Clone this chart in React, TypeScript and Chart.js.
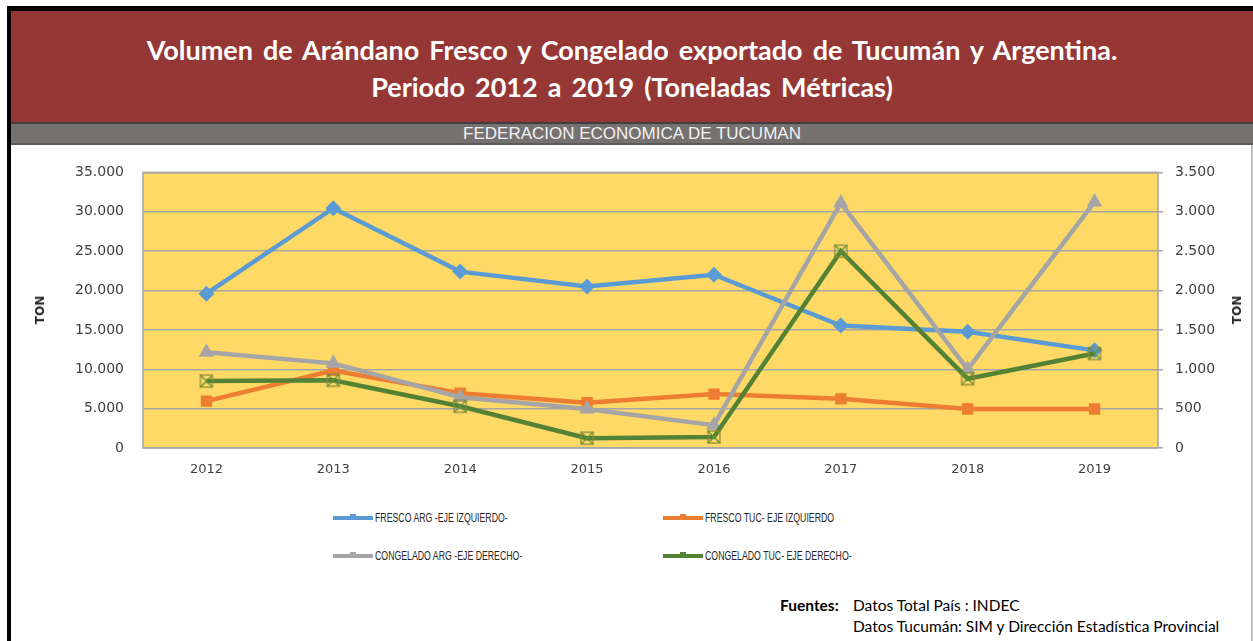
import React, { useEffect, useRef } from "react";
import { Chart, registerables } from "chart.js";

Chart.register(...registerables);

const years = ["2012", "2013", "2014", "2015", "2016", "2017", "2018", "2019"];
const frescoArg = [19600, 30450, 22400, 20500, 22000, 15550, 14750, 12400];
const frescoTuc = [5950, 9850, 6950, 5750, 6850, 6250, 4950, 4950];
const congeladoArg = [1215, 1075, 645, 495, 290, 3110, 1000, 3125];
const congeladoTuc = [850, 860, 530, 125, 140, 2500, 880, 1200];
const leftTicks = [0, 5000, 10000, 15000, 20000, 25000, 30000, 35000];
const rightTicks = [0, 500, 1000, 1500, 2000, 2500, 3000, 3500];
const seriesNames = [
  "FRESCO ARG -EJE IZQUIERDO-",
  "FRESCO TUC- EJE IZQUIERDO",
  "CONGELADO ARG -EJE DERECHO-",
  "CONGELADO TUC- EJE DERECHO-",
];
const colors = ["#5B9BD5", "#ED7D31", "#A5A5A5", "#548235"];

const fmt = (v: number) => {
  const s = String(Math.round(v));
  return s.replace(/\B(?=(\d{3})+(?!\d))/g, ".");
};

const bgPlugin = {
  id: "plotBg",
  beforeDraw(chart: any) {
    const { ctx, chartArea } = chart;
    ctx.save();
    ctx.fillStyle = "#FFD966";
    ctx.fillRect(chartArea.left, chartArea.top, chartArea.right - chartArea.left, chartArea.bottom - chartArea.top);
    ctx.restore();
  },
  afterDatasetsDraw(chart: any) {
    const { ctx, chartArea } = chart;
    ctx.save();
    ctx.strokeStyle = "#A6A6A6";
    ctx.lineWidth = 1.5;
    ctx.strokeRect(chartArea.left, chartArea.top, chartArea.right - chartArea.left, chartArea.bottom - chartArea.top);
    ctx.restore();
  },
};

export default function App() {
  const ref = useRef<HTMLCanvasElement | null>(null);
  useEffect(() => {
    if (!ref.current) return;
    const mk = document.createElement("canvas");
    mk.width = 16;
    mk.height = 16;
    const mc = mk.getContext("2d")!;
    mc.strokeStyle = "#8C8A3C";
    mc.lineWidth = 1.3;
    mc.strokeRect(2, 2, 12, 12);
    mc.strokeStyle = "#5E8F33";
    mc.lineWidth = 1.3;
    mc.beginPath();
    mc.moveTo(2, 2);
    mc.lineTo(14, 14);
    mc.moveTo(14, 2);
    mc.lineTo(2, 14);
    mc.stroke();

    const yFont = { family: "DejaVu Sans", size: 14 };
    const xFont = { family: "DejaVu Sans", size: 13 };
    const chart = new Chart(ref.current, {
      type: "line",
      data: {
        labels: years,
        datasets: [
          {
            label: seriesNames[0],
            data: frescoArg,
            yAxisID: "y",
            borderColor: colors[0],
            backgroundColor: colors[0],
            borderWidth: 4.5,
            pointStyle: "rectRot",
            pointRadius: 8,
            pointBorderWidth: 0,
            order: 3,
          },
          {
            label: seriesNames[1],
            data: frescoTuc,
            yAxisID: "y",
            borderColor: colors[1],
            backgroundColor: colors[1],
            borderWidth: 4.5,
            pointStyle: "rect",
            pointRadius: 8,
            pointBorderWidth: 0,
            order: 2,
          },
          {
            label: seriesNames[2],
            data: congeladoArg,
            yAxisID: "y1",
            borderColor: colors[2],
            backgroundColor: colors[2],
            borderWidth: 4.5,
            pointStyle: "triangle",
            pointRadius: 9,
            pointBorderWidth: 0,
            order: 1,
          },
          {
            label: seriesNames[3],
            data: congeladoTuc,
            yAxisID: "y1",
            borderColor: colors[3],
            backgroundColor: colors[3],
            borderWidth: 4.5,
            pointStyle: mk as any,
            pointRadius: 8,
            order: 0,
          },
        ],
      },
      options: {
        animation: false,
        responsive: false,
        maintainAspectRatio: false,
        layout: { padding: { top: 26, left: 0, right: 0, bottom: 0 } },
        plugins: { legend: { display: false }, tooltip: { enabled: false } },
        elements: { line: { tension: 0 } },
        scales: {
          x: {
            offset: true,
            grid: { display: false, drawTicks: false },
            border: { display: false },
            ticks: { color: "#404040", font: xFont, padding: 14 },
            afterFit: (s: any) => {
              s.height = 47;
            },
          },
          y: {
            position: "left",
            min: 0,
            max: 35000,
            afterBuildTicks: (s: any) => {
              s.ticks = leftTicks.map((v) => ({ value: v }));
            },
            grid: { color: "#A6A6A6", lineWidth: 1.5, drawTicks: false },
            border: { display: false },
            ticks: { color: "#404040", font: yFont, padding: 19, callback: (v: any) => fmt(v) },
            afterFit: (s: any) => {
              s.width = 132;
            },
          },
          y1: {
            position: "right",
            min: 0,
            max: 3500,
            afterBuildTicks: (s: any) => {
              s.ticks = rightTicks.map((v) => ({ value: v }));
            },
            grid: { color: "#A6A6A6", lineWidth: 1.5, drawOnChartArea: false, drawTicks: true, tickLength: 5 },
            border: { display: false },
            ticks: { color: "#404040", font: yFont, padding: 12, callback: (v: any) => fmt(v) },
            afterFit: (s: any) => {
              s.width = 95;
            },
          },
        },
      },
      plugins: [bgPlugin],
    });
    return () => chart.destroy();
  }, []);

  const legendItem = (i: number, x: number, y: number) => (
    <div key={i} style={{ position: "absolute", left: x, top: y - 8, height: 16, display: "flex", alignItems: "center" }}>
      <div style={{ width: 40, height: 4, background: colors[i], position: "relative" }}>
        <div style={{ position: "absolute", left: 17, top: -2, width: 6, height: 6, background: colors[i] }} />
      </div>
      <span
        style={{
          marginLeft: 2,
          fontFamily: "'Liberation Sans', sans-serif",
          fontSize: 12.5,
          color: "#262626",
          whiteSpace: "nowrap",
          display: "inline-block",
          transform: "scaleX(0.7)",
          transformOrigin: "left center",
        }}
      >
        {seriesNames[i]}
      </span>
    </div>
  );

  return (
    <div style={{ position: "fixed", left: 0, top: 0, width: 1253, height: 641, background: "#fff", overflow: "hidden" }}>
      <div style={{ position: "absolute", left: 7, top: 6, width: 1246, height: 5, background: "#000" }} />
      <div style={{ position: "absolute", left: 7, top: 6, width: 4, height: 635, background: "#000" }} />
      <div
        style={{
          position: "absolute",
          left: 11,
          top: 11,
          width: 1242,
          height: 111,
          background: "#953735",
          color: "#fff",
          fontFamily: "Lato, sans-serif",
          fontWeight: 700,
          fontSize: 27,
          textAlign: "center",
          lineHeight: "37px",
          paddingTop: 20,
          boxSizing: "border-box",
          wordSpacing: 3.5,
        }}
      >
        <div>Volumen de Arándano Fresco y Congelado exportado de Tucumán y Argentina.</div>
        <div>Periodo 2012 a 2019 (Toneladas Métricas)</div>
      </div>
      <div style={{ position: "absolute", left: 11, top: 122, width: 1242, height: 2, background: "#3F3F3F" }} />
      <div
        style={{
          position: "absolute",
          left: 11,
          top: 124,
          width: 1242,
          height: 19,
          background: "#767171",
          color: "#F2F2F2",
          fontFamily: "'Liberation Sans', sans-serif",
          fontSize: 17,
          lineHeight: "19px",
          textAlign: "center",
        }}
      >
        FEDERACION ECONOMICA DE TUCUMAN
      </div>
      <div style={{ position: "absolute", left: 11, top: 143, width: 1242, height: 2, background: "#5A5A5A" }} />
      <div style={{ position: "absolute", left: 1251, top: 145, width: 2, height: 496, background: "#BFBFBF" }} />
      <canvas ref={ref} width={1242} height={350} style={{ position: "absolute", left: 11, top: 145, width: 1242, height: 350 }} />
      <div
        style={{
          position: "absolute",
          left: 40,
          top: 310,
          transform: "translate(-50%, -50%) rotate(-90deg)",
          fontFamily: "'DejaVu Sans', sans-serif",
          fontWeight: 700,
          fontSize: 12,
          color: "#262626",
        }}
      >
        TON
      </div>
      <div
        style={{
          position: "absolute",
          left: 1237,
          top: 310,
          transform: "translate(-50%, -50%) rotate(-90deg)",
          fontFamily: "'DejaVu Sans', sans-serif",
          fontWeight: 700,
          fontSize: 12,
          color: "#262626",
        }}
      >
        TON
      </div>
      {legendItem(0, 333, 518)}
      {legendItem(1, 663, 518)}
      {legendItem(2, 333, 556)}
      {legendItem(3, 663, 556)}
      <div style={{ position: "absolute", left: 780, top: 595, fontFamily: "Lato, sans-serif", fontSize: 15.5, color: "#000", lineHeight: "21px" }}>
        <span style={{ fontWeight: 700 }}>Fuentes:</span>
        <span style={{ position: "absolute", left: 73, top: 0, whiteSpace: "nowrap" }}>Datos Total País : INDEC</span>
        <span style={{ position: "absolute", left: 73, top: 21, whiteSpace: "nowrap" }}>Datos Tucumán: SIM y Dirección Estadística Provincial</span>
      </div>
    </div>
  );
}
